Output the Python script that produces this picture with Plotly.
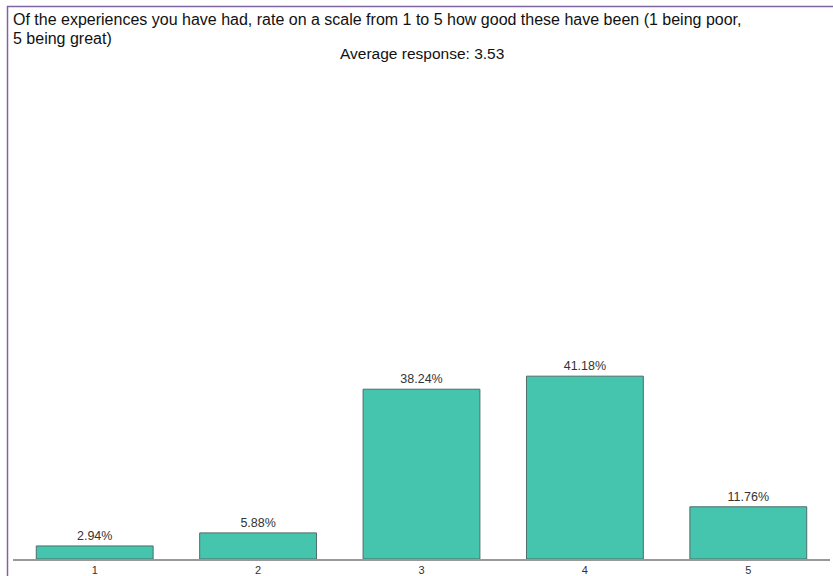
import plotly.graph_objects as go

categories = ["1", "2", "3", "4", "5"]
values = [2.94, 5.88, 38.24, 41.18, 11.76]
labels = ["2.94%", "5.88%", "38.24%", "41.18%", "11.76%"]
title_line1 = "Of the experiences you have had, rate on a scale from 1 to 5 how good these have been (1 being poor,"
title_line2 = "5 being great)"
subtitle_text = "Average response: 3.53"

W, H = 833, 576
L, R, T, B = 13, 3, 115, 17
FONT = "Liberation Sans, Arial"

fig = go.Figure(go.Bar(
    x=categories, y=values, text=labels, textposition="outside",
    textfont=dict(family=FONT, size=12.5, color="#333333"),
    marker=dict(color="#45C4AE", line=dict(color="#4F6E69", width=1)),
    width=0.715, cliponaxis=False,
))

pw = W - L - R
ph = H - T - B

def px(x):
    return (x - L) / pw

def py(y):
    return (H - B - y) / ph

fig.update_layout(
    width=W, height=H,
    margin=dict(l=L, r=R, t=T, b=B, pad=0),
    plot_bgcolor="white", paper_bgcolor="white",
    showlegend=False,
    font=dict(family=FONT, color="#222222"),
    xaxis=dict(type="category", range=[-0.5, 4.5], showgrid=False, zeroline=False,
               showline=True, linecolor="#999999", linewidth=1.5, ticks="",
               automargin=False,
               tickfont=dict(size=11, color="#333333"), ticklabelstandoff=0),
    yaxis=dict(range=[0, 100], visible=False, showgrid=False, zeroline=False,
               automargin=False),
    annotations=[
        dict(text=title_line1, xref="paper", yref="paper",
             x=px(11), y=py(19), xanchor="left", yanchor="middle",
             align="left", showarrow=False,
             font=dict(size=16, color="#111111", family=FONT)),
        dict(text=title_line2, xref="paper", yref="paper",
             x=px(11), y=py(38), xanchor="left", yanchor="middle",
             align="left", showarrow=False,
             font=dict(size=16, color="#111111", family=FONT)),
        dict(text=subtitle_text, xref="paper", yref="paper",
             x=px(422), y=py(53), xanchor="center", yanchor="middle",
             showarrow=False,
             font=dict(size=15.5, color="#111111", family=FONT)),
    ],
    shapes=[
        dict(type="rect", xref="paper", yref="paper",
             x0=px(7.5), x1=px(W + 20),
             y0=py(H + 20), y1=py(6.5),
             line=dict(color="#8064A2", width=1.5), layer="above"),
    ],
)

fig.write_html("out.html")
